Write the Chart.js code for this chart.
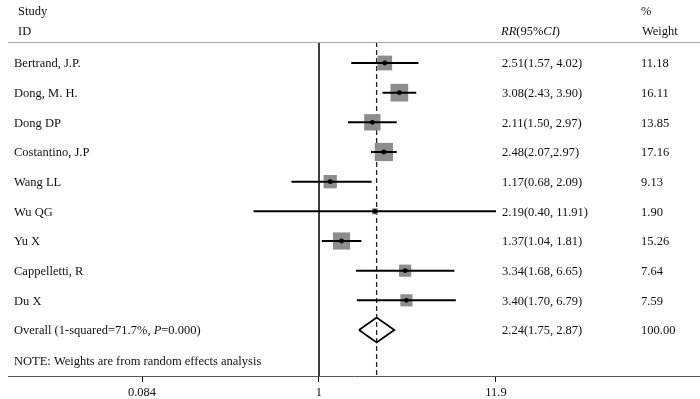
<!DOCTYPE html>
<html><head><meta charset="utf-8">
<script src="https://cdn.jsdelivr.net/npm/chart.js@4"></script>
<style>html,body{margin:0;padding:0;background:#fff}#wrap{width:700px;height:399px}</style>
</head><body><div id="wrap"><canvas id="c" width="700" height="399"></canvas></div>
<script>
const studies = ["Bertrand, J.P.", "Dong, M. H.", "Dong DP", "Costantino, J.P", "Wang LL", "Wu QG", "Yu X", "Cappelletti, R", "Du X"];
const rr      = [2.51, 3.08, 2.11, 2.48, 1.17, 2.19, 1.37, 3.34, 3.40];
const lower   = [1.57, 2.43, 1.50, 2.07, 0.68, 0.40, 1.04, 1.68, 1.70];
const upper   = [4.02, 3.90, 2.97, 2.97, 2.09, 11.91, 1.81, 6.65, 6.79];
const weights = [11.18, 16.11, 13.85, 17.16, 9.13, 1.90, 15.26, 7.64, 7.59];
const ciLabels = ["2.51(1.57, 4.02)", "3.08(2.43, 3.90)", "2.11(1.50, 2.97)", "2.48(2.07,2.97)", "1.17(0.68, 2.09)", "2.19(0.40, 11.91)", "1.37(1.04, 1.81)", "3.34(1.68, 6.65)", "3.40(1.70, 6.79)"];
const overallRR = 2.24, overallLo = 1.75, overallHi = 2.87;
const overallLabel = "2.24(1.75, 2.87)";
const overallWeight = "100.00";
const xTicks = [0.084, 1, 11.9];

const Y_MIN = -0.708, Y_MAX = 10.55;
const OV = studies.length;       // overall row
const NOTE_ROW = OV + 1.03;
const FONT = '"Liberation Serif", "Times New Roman", serif';
const FS = 12.5;
const TXT_DY = 1;

const datasets = [];
studies.forEach((s, i) => {
  datasets.push({type: 'line', data: [{x: lower[i], y: i}, {x: upper[i], y: i}],
    borderColor: '#000', borderWidth: 2, pointRadius: 0, order: 1});
});
datasets.push({type: 'scatter', data: studies.map((s, i) => ({x: rr[i], y: i})),
  pointStyle: 'rect', pointRadius: weights.map(w => 4.4 * Math.sqrt(w) / Math.SQRT2),
  backgroundColor: '#8d8d8d', borderWidth: 0, order: 2});
datasets.push({type: 'scatter', data: studies.map((s, i) => ({x: rr[i], y: i})),
  pointStyle: 'circle', pointRadius: 2.4, backgroundColor: '#000', borderWidth: 0, order: 0});
datasets.push({type: 'line', data: [
    {x: overallLo, y: OV}, {x: overallRR, y: OV - 0.42}, {x: overallHi, y: OV},
    {x: overallRR, y: OV + 0.42}, {x: overallLo, y: OV}],
  borderColor: '#000', borderWidth: 1.8, pointRadius: 0, tension: 0, fill: false, order: 1});
datasets.push({type: 'line', data: [{x: 1, y: Y_MIN}, {x: 1, y: Y_MAX}],
  borderColor: '#000', borderWidth: 1.5, pointRadius: 0, order: 3});
datasets.push({type: 'line', data: [{x: overallRR, y: Y_MIN}, {x: overallRR, y: Y_MAX}],
  borderColor: '#222', borderWidth: 1.3, borderDash: [5, 3], pointRadius: 0, order: 3});

function drawMixed(ctx, parts, x, y) {
  let cx = x;
  parts.forEach(([txt, italic]) => {
    ctx.font = (italic ? 'italic ' : '') + FS + 'px ' + FONT;
    ctx.fillText(txt, cx, y);
    cx += ctx.measureText(txt).width;
  });
}

const textPlugin = {
  id: 'forestText',
  afterDraw(chart) {
    const ctx = chart.ctx, ys = chart.scales.y, area = chart.chartArea;
    ctx.save();
    ctx.strokeStyle = '#a8a8a8'; ctx.lineWidth = 1;
    ctx.beginPath(); ctx.moveTo(area.left, area.top + 0.5); ctx.lineTo(area.right, area.top + 0.5); ctx.stroke();
    ctx.fillStyle = '#111'; ctx.textBaseline = 'middle'; ctx.textAlign = 'left';
    ctx.font = FS + 'px ' + FONT;
    ctx.fillText('Study', 18, 12);
    ctx.fillText('ID', 18, 32);
    ctx.fillText('%', 641, 12);
    ctx.fillText('Weight', 642, 32);
    drawMixed(ctx, [['RR', true], ['(95%', false], ['CI', true], [')', false]], 501, 32);
    ctx.font = FS + 'px ' + FONT;
    studies.forEach((s, i) => {
      const y = ys.getPixelForValue(i) + TXT_DY;
      ctx.fillText(s, 14, y);
      ctx.fillText(ciLabels[i], 502, y);
      ctx.fillText(weights[i].toFixed(2), 641, y);
    });
    const yo = ys.getPixelForValue(OV) + TXT_DY;
    drawMixed(ctx, [['Overall (1-squared=71.7%, ', false], ['P', true], ['=0.000)', false]], 14, yo);
    ctx.font = FS + 'px ' + FONT;
    ctx.fillText(overallLabel, 502, yo);
    ctx.fillText(overallWeight, 641, yo);
    ctx.fillText('NOTE: Weights are from random effects analysis', 14, ys.getPixelForValue(NOTE_ROW) + TXT_DY);
    ctx.restore();
  }
};

new Chart(document.getElementById('c'), {
  type: 'scatter',
  data: {datasets},
  options: {
    responsive: false, animation: false, devicePixelRatio: 1,
    layout: {autoPadding: false, padding: {left: 8, right: 0, top: 42, bottom: 0}},
    plugins: {legend: {display: false}, tooltip: {enabled: false}},
    scales: {
      x: {type: 'logarithmic', min: 0.01287, max: 207, position: 'bottom',
        afterBuildTicks: s => { s.ticks = xTicks.map(v => ({value: v})); },
        afterFit: s => { s.paddingLeft = 0; s.paddingRight = 0; s.paddingTop = 0; s.paddingBottom = 0; s.height = 23; },
        grid: {display: true, drawOnChartArea: false, drawTicks: true, tickLength: 6, color: '#000', lineWidth: 1},
        border: {display: true, color: '#555', width: 1},
        ticks: {autoSkip: false, maxRotation: 0, padding: 3, color: '#111',
          font: {family: FONT, size: FS},
          callback: v => String(v)}},
      y: {type: 'linear', reverse: true, min: Y_MIN, max: Y_MAX, display: false}
    }
  },
  plugins: [textPlugin]
});
</script></body></html>
